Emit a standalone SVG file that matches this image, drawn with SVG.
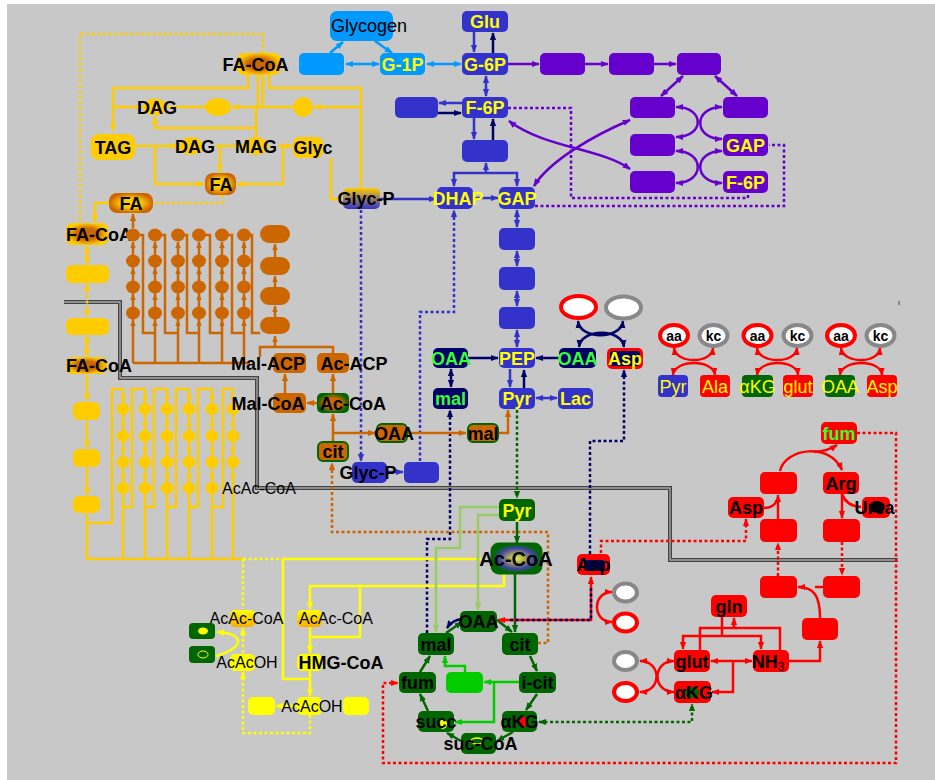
<svg xmlns="http://www.w3.org/2000/svg" width="935" height="780" viewBox="0 0 935 780">
<defs>
<style>
text{font-family:"Liberation Sans",Arial,sans-serif;font-weight:bold;font-size:18px;text-anchor:middle}
.n{font-weight:normal}
.s16{font-size:16px}
.s14{font-size:14px}
.ky{fill:#ffff00}.kk{fill:#000}.kg{fill:#33ff33}.kn{fill:#000033}
.ln{fill:none;stroke-width:2.5}
.dt{stroke-dasharray:3 2.5}
.blue{fill:#3333cc}.navy{fill:#000066}.pur{fill:#6600cc}.lb{fill:#0099ff}.gold{fill:#ffcc00}.org{fill:#cc6600}.yel{fill:#ffff00}.dg{fill:#006600}.red{fill:#ff0000}.bg{fill:#00cc00}
.ovr{fill:#fff;stroke:#ff0000;stroke-width:4}
.ovg{fill:#fff;stroke:#888;stroke-width:4}
</style>
<marker id="aB" viewBox="0 0 10 10" refX="9" refY="5" markerWidth="8" markerHeight="8" markerUnits="userSpaceOnUse" orient="auto-start-reverse"><path d="M0,1L10,5L0,9z" fill="#3333cc"/></marker>
<marker id="aN" viewBox="0 0 10 10" refX="9" refY="5" markerWidth="8" markerHeight="8" markerUnits="userSpaceOnUse" orient="auto-start-reverse"><path d="M0,1L10,5L0,9z" fill="#000066"/></marker>
<marker id="aP" viewBox="0 0 10 10" refX="9" refY="5" markerWidth="8" markerHeight="8" markerUnits="userSpaceOnUse" orient="auto-start-reverse"><path d="M0,1L10,5L0,9z" fill="#6600cc"/></marker>
<marker id="aL" viewBox="0 0 10 10" refX="9" refY="5" markerWidth="8" markerHeight="8" markerUnits="userSpaceOnUse" orient="auto-start-reverse"><path d="M0,1L10,5L0,9z" fill="#0099ff"/></marker>
<marker id="aY" viewBox="0 0 10 10" refX="9" refY="5" markerWidth="8" markerHeight="8" markerUnits="userSpaceOnUse" orient="auto-start-reverse"><path d="M0,1L10,5L0,9z" fill="#ffcc00"/></marker>
<marker id="yS" viewBox="0 0 10 10" refX="9" refY="5" markerWidth="7" markerHeight="7" markerUnits="userSpaceOnUse" orient="auto"><path d="M0,1L10,5L0,9z" fill="#ffcc00"/></marker>
<marker id="aO" viewBox="0 0 10 10" refX="9" refY="5" markerWidth="8" markerHeight="8" markerUnits="userSpaceOnUse" orient="auto-start-reverse"><path d="M0,1L10,5L0,9z" fill="#cc6600"/></marker>
<marker id="oS" viewBox="0 0 10 10" refX="9" refY="5" markerWidth="7" markerHeight="7" markerUnits="userSpaceOnUse" orient="auto"><path d="M0,1L10,5L0,9z" fill="#cc6600"/></marker>
<marker id="aYY" viewBox="0 0 10 10" refX="9" refY="5" markerWidth="8" markerHeight="8" markerUnits="userSpaceOnUse" orient="auto-start-reverse"><path d="M0,1L10,5L0,9z" fill="#ffff00"/></marker>
<marker id="aG" viewBox="0 0 10 10" refX="9" refY="5" markerWidth="8" markerHeight="8" markerUnits="userSpaceOnUse" orient="auto-start-reverse"><path d="M0,1L10,5L0,9z" fill="#006600"/></marker>
<marker id="aLG" viewBox="0 0 10 10" refX="9" refY="5" markerWidth="8" markerHeight="8" markerUnits="userSpaceOnUse" orient="auto-start-reverse"><path d="M0,1L10,5L0,9z" fill="#99cc66"/></marker>
<marker id="aBG" viewBox="0 0 10 10" refX="9" refY="5" markerWidth="8" markerHeight="8" markerUnits="userSpaceOnUse" orient="auto-start-reverse"><path d="M0,1L10,5L0,9z" fill="#00cc00"/></marker>
<marker id="aR" viewBox="0 0 10 10" refX="9" refY="5" markerWidth="8" markerHeight="8" markerUnits="userSpaceOnUse" orient="auto-start-reverse"><path d="M0,1L10,5L0,9z" fill="#ff0000"/></marker>
<radialGradient id="gFaCoA"><stop offset="0" stop-color="#cc6600"/><stop offset="0.5" stop-color="#cc6600"/><stop offset="1" stop-color="#ffcc00"/></radialGradient>
<radialGradient id="gFA"><stop offset="0" stop-color="#ffcc00"/><stop offset="0.45" stop-color="#ffcc00"/><stop offset="1" stop-color="#cc6600"/></radialGradient>
<radialGradient id="gAcCoA"><stop offset="0" stop-color="#cc6600"/><stop offset="0.5" stop-color="#cc6600"/><stop offset="1" stop-color="#006600"/></radialGradient>
<radialGradient id="gTca"><stop offset="0" stop-color="#e8e840"/><stop offset="0.3" stop-color="#b0b050"/><stop offset="0.7" stop-color="#4444aa"/><stop offset="1" stop-color="#006600"/></radialGradient>
<linearGradient id="gGlycP" x1="0" y1="0" x2="0" y2="1"><stop offset="0" stop-color="#ffcc00"/><stop offset="1" stop-color="#3333cc"/></linearGradient>
<linearGradient id="gAcAc" x1="0" y1="0" x2="0" y2="1"><stop offset="0" stop-color="#ffff00"/><stop offset="1" stop-color="#ffaa00"/></linearGradient>
</defs>

<!-- canvas -->
<rect width="935" height="780" fill="#fff"/>
<rect x="7" y="4" width="928" height="776" fill="#c8c8c8"/>
<rect x="898" y="301" width="2" height="4" fill="#888"/>

<!-- membrane -->
<g id="membrane">
<path d="M64 302H120V378H257V488H670V560H898" fill="none" stroke="#444" stroke-width="4"/>
<path d="M64 302H120V378H257V488H670V560H898" fill="none" stroke="#a8a8a8" stroke-width="1.3"/>
</g>

<g id="connectors">
<!-- glycogen -->
<path class="ln" stroke="#0099ff" stroke-width="2" d="M330 53L343 42" marker-end="url(#aL)"/>
<path class="ln" stroke="#0099ff" stroke-width="2" d="M375 41L392 53" marker-end="url(#aL)"/>
<path class="ln" stroke="#0099ff" stroke-width="2" d="M346 64H379" marker-start="url(#aL)" marker-end="url(#aL)"/>
<path class="ln" stroke="#0099ff" stroke-width="2" d="M427 64H461" marker-start="url(#aL)" marker-end="url(#aL)"/>
<!-- glycolysis -->
<path class="ln" stroke="#3333cc" d="M474 32V52" marker-end="url(#aB)"/>
<path class="ln" stroke="#3333cc" d="M486 76V96" marker-start="url(#aB)" marker-end="url(#aB)"/>
<path class="ln" stroke="#3333cc" d="M462 103H439" marker-end="url(#aB)"/>
<path class="ln" stroke="#3333cc" d="M474 118V139" marker-end="url(#aB)"/>
<path class="ln" stroke="#3333cc" d="M454 186V173H517V186" marker-start="url(#aB)" marker-end="url(#aB)"/>
<path class="ln" stroke="#3333cc" d="M486 173V163" marker-end="url(#aB)"/>
<path class="ln" stroke="#3333cc" d="M380 199H436" marker-end="url(#aB)"/>
<path class="ln" stroke="#3333cc" d="M473 198H498" marker-end="url(#aB)"/>
<path class="ln" stroke="#3333cc" d="M517 210V227" marker-start="url(#aB)" marker-end="url(#aB)"/>
<path class="ln" stroke="#3333cc" d="M517 251V266" marker-start="url(#aB)" marker-end="url(#aB)"/>
<path class="ln" stroke="#3333cc" d="M517 291V306" marker-start="url(#aB)" marker-end="url(#aB)"/>
<path class="ln" stroke="#3333cc" d="M517 330V347" marker-start="url(#aB)" marker-end="url(#aB)"/>
<path class="ln" stroke="#3333cc" d="M510 369V387" marker-end="url(#aB)"/>
<path class="ln" stroke="#3333cc" d="M536 398H557" marker-start="url(#aB)" marker-end="url(#aB)"/>
<path class="ln" stroke="#3333cc" d="M387 472H403" marker-end="url(#aB)"/>
<path class="ln dt" stroke="#3333cc" d="M361 210V461" marker-end="url(#aB)"/>
<path class="ln dt" stroke="#3333cc" d="M420 461V312H454V210" marker-end="url(#aB)"/>
<!-- navy -->
<path class="ln" stroke="#000066" d="M493 53V33" marker-end="url(#aN)"/>
<path class="ln" stroke="#000066" d="M438 113H461" marker-end="url(#aN)"/>
<path class="ln" stroke="#000066" d="M493 140V119" marker-end="url(#aN)"/>
<path class="ln" stroke="#000066" d="M524 388V370" marker-end="url(#aN)"/>
<path class="ln" stroke="#000066" d="M468 358H498" marker-end="url(#aN)"/>
<path class="ln" stroke="#000066" d="M559 358H536" marker-end="url(#aN)"/>
<path class="ln" stroke="#000066" d="M451 369V387" marker-start="url(#aN)" marker-end="url(#aN)"/>
<path class="ln" stroke="#000066" d="M578 321C580 340 621 340 623 321" marker-start="url(#aN)" marker-end="url(#aN)"/>
<path class="ln" stroke="#000066" d="M579 347C581 328 622 328 624 347" marker-start="url(#aN)" marker-end="url(#aN)"/>
<path class="ln" stroke="#000066" d="M462 619Q452 620 447 628" marker-end="url(#aN)"/>
<path class="ln dt" stroke="#000066" d="M427 633V539H450V410" marker-end="url(#aN)"/>
<path class="ln dt" stroke="#000066" d="M590 554V441H624V370" marker-end="url(#aN)"/>
<!-- purple -->
<path class="ln" stroke="#6600cc" d="M508 64H539" marker-end="url(#aP)"/>
<path class="ln" stroke="#6600cc" d="M585 64H608" marker-end="url(#aP)"/>
<path class="ln" stroke="#6600cc" d="M654 64H676" marker-end="url(#aP)"/>
<path class="ln" stroke="#6600cc" d="M683 76L661 96" marker-start="url(#aP)" marker-end="url(#aP)"/>
<path class="ln" stroke="#6600cc" d="M715 76L737 96" marker-start="url(#aP)" marker-end="url(#aP)"/>
<path class="ln" stroke="#6600cc" d="M676 107C705 107 705 137 676 137" marker-start="url(#aP)" marker-end="url(#aP)"/>
<path class="ln" stroke="#6600cc" d="M722 107C693 107 693 139 722 139" marker-start="url(#aP)" marker-end="url(#aP)"/>
<path class="ln" stroke="#6600cc" d="M676 151C705 151 705 183 676 183" marker-start="url(#aP)" marker-end="url(#aP)"/>
<path class="ln" stroke="#6600cc" d="M722 151C693 151 693 183 722 183" marker-start="url(#aP)" marker-end="url(#aP)"/>
<path class="ln" stroke="#6600cc" d="M509 121C545 148 600 148 630 169" marker-start="url(#aP)" marker-end="url(#aP)"/>
<path class="ln" stroke="#6600cc" d="M534 186C550 160 595 135 630 120" marker-start="url(#aP)" marker-end="url(#aP)"/>
<path class="ln dt" stroke="#6600cc" d="M508 108H571V198H748V193"/>
<path class="ln dt" stroke="#6600cc" d="M535 206H784V145H769"/>
<!-- lipids -->
<path class="ln dt" stroke="#ffcc00" d="M263 53V34H80V222"/>
<path class="ln" stroke="#ffcc00" d="M248 75V88H113V131" marker-end="url(#aY)"/>
<path class="ln" stroke="#ffcc00" d="M113 107H144M167 107H205M258 75V107M263 75V107"/>
<path class="ln" stroke="#ffcc00" d="M293 107H232" marker-end="url(#aY)"/>
<path class="ln" stroke="#ffcc00" d="M269 75V88H361V188"/>
<path class="ln" stroke="#ffcc00" d="M361 107H314" marker-end="url(#aY)"/>
<path class="ln" stroke="#ffcc00" d="M256 107V138"/>
<path class="ln" stroke="#ffcc00" d="M256 128H155V117" marker-end="url(#aY)"/>
<path class="ln" stroke="#ffcc00" d="M135 146H178" marker-end="url(#aY)"/>
<path class="ln" stroke="#ffcc00" d="M155 146V184H204" marker-end="url(#aY)"/>
<path class="ln" stroke="#ffcc00" d="M215 146H243"/>
<path class="ln" stroke="#ffcc00" d="M220 146V172" marker-end="url(#aY)"/>
<path class="ln" stroke="#ffcc00" d="M278 146H292" marker-end="url(#aY)"/>
<path class="ln" stroke="#ffcc00" d="M283 146V184H237" marker-end="url(#aY)"/>
<path class="ln" stroke="#ffcc00" d="M331 158V199H342"/>
<path class="ln dt" stroke="#ffcc00" stroke-width="2" d="M222 195V203H154"/>
<path class="ln" stroke="#ffcc00" d="M109 203H95V222" marker-end="url(#aY)"/>
<path class="ln" stroke="#ffcc00" d="M87 246V264" marker-start="url(#aY)" marker-end="url(#aY)"/>
<path class="ln dt" stroke="#ffcc00" d="M87 284V317" marker-start="url(#aY)" marker-end="url(#aY)"/>
<path class="ln" stroke="#ffcc00" d="M87 336V356" marker-start="url(#aY)" marker-end="url(#aY)"/>
<path class="ln" stroke="#ffcc00" d="M87 375V401" marker-end="url(#aY)"/>
<path class="ln" stroke="#ffcc00" d="M87 421V448" marker-end="url(#aY)"/>
<path class="ln" stroke="#ffcc00" d="M87 468V495" marker-end="url(#aY)"/>
<!-- beta-oxidation spiral -->
<path class="ln" stroke="#ffcc00" d="M87 514V559H243M87 523H112V389H123M123 507H132V389H145M145 507H154V389H167M167 507H176V389H189M189 507H198V389H212M212 507H223V389H233"/>
<path class="ln" stroke="#ffcc00" d="M123 389L123 402L123 429L123 455L123 481L123 559" marker-mid="url(#yS)"/>
<path class="ln" stroke="#ffcc00" d="M145 389L145 402L145 429L145 455L145 481L145 559" marker-mid="url(#yS)"/>
<path class="ln" stroke="#ffcc00" d="M167 389L167 402L167 429L167 455L167 481L167 559" marker-mid="url(#yS)"/>
<path class="ln" stroke="#ffcc00" d="M189 389L189 402L189 429L189 455L189 481L189 559" marker-mid="url(#yS)"/>
<path class="ln" stroke="#ffcc00" d="M212 389L212 402L212 429L212 455L212 481L212 559" marker-mid="url(#yS)"/>
<path class="ln" stroke="#ffcc00" d="M233 389L233 402L233 429L233 455L233 481L233 559" marker-mid="url(#yS)"/>
<!-- fatty acid synthesis spiral -->
<path class="ln" stroke="#cc6600" d="M133 363H250M133 235H143V333H155M155 235H165V333H178M178 235H187V333H199M199 235H210V333H222M222 235H232V333H244M244 235H252V333H260"/>
<path class="ln" stroke="#cc6600" d="M133 363L133 320L133 294L133 268L133 242" marker-mid="url(#oS)" marker-end="url(#oS)"/>
<path class="ln" stroke="#cc6600" d="M155 363L155 320L155 294L155 268L155 242" marker-mid="url(#oS)" marker-end="url(#oS)"/>
<path class="ln" stroke="#cc6600" d="M178 363L178 320L178 294L178 268L178 242" marker-mid="url(#oS)" marker-end="url(#oS)"/>
<path class="ln" stroke="#cc6600" d="M199 363L199 320L199 294L199 268L199 242" marker-mid="url(#oS)" marker-end="url(#oS)"/>
<path class="ln" stroke="#cc6600" d="M222 363L222 320L222 294L222 268L222 242" marker-mid="url(#oS)" marker-end="url(#oS)"/>
<path class="ln" stroke="#cc6600" d="M244 363L244 320L244 294L244 268L244 242" marker-mid="url(#oS)" marker-end="url(#oS)"/>
<path class="ln" stroke="#cc6600" d="M133 228V214" marker-end="url(#aO)"/>
<path class="ln" stroke="#cc6600" d="M275 347L275 336" marker-end="url(#oS)"/>
<path class="ln" stroke="#cc6600" d="M275 317L275 306" marker-end="url(#oS)"/>
<path class="ln" stroke="#cc6600" d="M275 287L275 276" marker-end="url(#oS)"/>
<path class="ln" stroke="#cc6600" d="M275 257L275 244" marker-end="url(#oS)"/>
<path class="ln" stroke="#cc6600" d="M260 357V347H333V353"/>
<path class="ln" stroke="#cc6600" d="M285 393V374" marker-end="url(#aO)"/>
<path class="ln" stroke="#cc6600" d="M317 403H307" marker-end="url(#aO)"/>
<path class="ln" stroke="#cc6600" d="M333 393V374" marker-end="url(#aO)"/>
<path class="ln" stroke="#cc6600" d="M333 441V414" marker-end="url(#aO)"/>
<path class="ln" stroke="#cc6600" d="M333 433H375" marker-end="url(#aO)"/>
<path class="ln" stroke="#cc6600" d="M408 433H466" marker-end="url(#aO)"/>
<path class="ln" stroke="#cc6600" d="M499 433H508V410" marker-end="url(#aO)"/>
<path class="ln dt" stroke="#cc6600" d="M538 643H548V532H332V463" marker-end="url(#aO)"/>
<!-- ketone bodies -->
<path class="ln dt" stroke="#ffff00" d="M243 559H283M243 559V609"/>
<path class="ln dt" stroke="#ffff00" d="M243 653V628" marker-end="url(#aYY)"/>
<path class="ln" stroke="#ffff00" d="M283 559H481M283 559V679H310"/>
<path class="ln" stroke="#ffff00" d="M216 656C240 650 250 634 217 632" marker-end="url(#aYY)"/>
<path class="ln dt" stroke="#ffff00" d="M310 715V733H243V672" marker-end="url(#aYY)"/>
<path class="ln" stroke="#ffff00" d="M504 573V586H310V609" marker-end="url(#aYY)"/>
<path class="ln" stroke="#ffff00" d="M360 586V637H310"/>
<path class="ln" stroke="#ffff00" d="M310 627V653" marker-end="url(#aYY)"/>
<path class="ln" stroke="#ffff00" d="M310 671V696" marker-end="url(#aYY)"/>
<path class="ln" stroke="#ffff00" d="M297 706H276" marker-end="url(#aYY)"/>
<!-- TCA cycle -->
<path class="ln dt" stroke="#006600" d="M517 410V498" marker-end="url(#aG)"/>
<path class="ln" stroke="#006600" d="M517 522V543" marker-end="url(#aG)"/>
<path class="ln" stroke="#006600" d="M515 573V632" marker-end="url(#aG)"/>
<path class="ln" stroke="#006600" d="M497 620L512 632" marker-end="url(#aG)"/>
<path class="ln" stroke="#006600" d="M530 656L537 671" marker-end="url(#aG)"/>
<path class="ln" stroke="#006600" d="M537 694L526 710" marker-end="url(#aG)"/>
<path class="ln" stroke="#006600" d="M513 732L497 741" marker-end="url(#aG)"/>
<path class="ln" stroke="#006600" d="M461 741L447 733" marker-end="url(#aG)"/>
<path class="ln" stroke="#006600" d="M428 711L420 694" marker-end="url(#aG)"/>
<path class="ln" stroke="#006600" d="M420 672L430 656" marker-end="url(#aG)"/>
<path class="ln" stroke="#006600" d="M446 633L462 622" marker-end="url(#aG)"/>
<path class="ln dt" stroke="#006600" d="M539 722H692V704" marker-start="url(#aG)" marker-end="url(#aG)"/>
<path class="ln" stroke="#99cc66" d="M499 507H460V548H436V632" marker-end="url(#aLG)"/>
<path class="ln" stroke="#99cc66" d="M499 515H478V610" marker-end="url(#aLG)"/>
<path class="ln" stroke="#00cc00" d="M519 682H484" marker-end="url(#aBG)"/>
<path class="ln" stroke="#00cc00" d="M494 682V722H455" marker-end="url(#aBG)"/>
<path class="ln" stroke="#00cc00" d="M465 672V666H445V656" marker-end="url(#aBG)"/>
<!-- aspartate shuttle -->
<path class="ln" stroke="#ff0000" stroke-width="2" d="M591 577V620H498" marker-start="url(#aR)" marker-end="url(#aR)"/>
<path class="ln dt" stroke="#000066" stroke-width="2" d="M591 588V620H508"/>
<path class="ln" stroke="#ff0000" d="M612 592C592 592 592 622 612 622" marker-start="url(#aR)" marker-end="url(#aR)"/>
<path class="ln dt" stroke="#ff0000" d="M601 553V541H746V519" marker-end="url(#aR)"/>
<!-- urea cycle and nitrogen -->
<path class="ln dt" stroke="#ff0000" d="M857 433H896V763H383V683H398" marker-end="url(#aR)"/>
<path class="ln" stroke="#ff0000" d="M780 471C785 448 830 442 842 470" marker-end="url(#aR)"/>
<path class="ln" stroke="#ff0000" d="M814 452Q828 451 837 445" marker-end="url(#aR)"/>
<path class="ln" stroke="#ff0000" d="M778 519V495" marker-end="url(#aR)"/>
<path class="ln" stroke="#ff0000" d="M764 508Q774 508 777 500"/>
<path class="ln" stroke="#ff0000" d="M842 494Q846 506 861 507"/>
<path class="ln" stroke="#ff0000" d="M842 494V518" marker-end="url(#aR)"/>
<path class="ln dt" stroke="#ff0000" d="M778 576V543" marker-end="url(#aR)"/>
<path class="ln dt" stroke="#ff0000" d="M842 542V575" marker-end="url(#aR)"/>
<path class="ln" stroke="#ff0000" d="M823 587H815"/>
<path class="ln" stroke="#ff0000" d="M820 618C820 596 814 587 798 587" marker-end="url(#aR)"/>
<path class="ln" stroke="#ff0000" d="M789 661H820V641" marker-end="url(#aR)"/>
<path class="ln" stroke="#ff0000" d="M722 617V636M700 650V628H780V650"/>
<path class="ln" stroke="#ff0000" d="M734 628V618" marker-end="url(#aR)"/>
<path class="ln" stroke="#ff0000" d="M683 649V636H761V649" marker-start="url(#aR)" marker-end="url(#aR)"/>
<path class="ln" stroke="#ff0000" d="M711 661H752" marker-start="url(#aR)" marker-end="url(#aR)"/>
<path class="ln" stroke="#ff0000" d="M733 661V692H712" marker-end="url(#aR)"/>
<path class="ln" stroke="#ff0000" d="M640 661C662 661 662 692 640 692" marker-start="url(#aR)" marker-end="url(#aR)"/>
<path class="ln" stroke="#ff0000" d="M674 661C652 661 652 692 674 692" marker-start="url(#aR)" marker-end="url(#aR)"/>
<!-- transamination key -->
<path class="ln" stroke="#ff0000" stroke-width="2" d="M674 348C676 364 712 364 713 348" marker-start="url(#aR)" marker-end="url(#aR)"/>
<path class="ln" stroke="#ff0000" stroke-width="2" d="M673 375C675 359 713 359 715 375" marker-start="url(#aR)" marker-end="url(#aR)"/>
<path class="ln" stroke="#ff0000" stroke-width="2" d="M757 348C759 364 796 364 797 348" marker-start="url(#aR)" marker-end="url(#aR)"/>
<path class="ln" stroke="#ff0000" stroke-width="2" d="M757 375C759 359 797 359 798 375" marker-start="url(#aR)" marker-end="url(#aR)"/>
<path class="ln" stroke="#ff0000" stroke-width="2" d="M841 348C843 364 879 364 880 348" marker-start="url(#aR)" marker-end="url(#aR)"/>
<path class="ln" stroke="#ff0000" stroke-width="2" d="M840 375C842 359 881 359 882 375" marker-start="url(#aR)" marker-end="url(#aR)"/>
</g>

<!-- glycogen / glycolysis nodes -->
<g id="glycogen"><rect x="330" y="11" width="63" height="30" rx="7" class="lb"/><text x="369" y="32" class="n kk">Glycogen</text></g>
<g id="glc-blank"><rect x="299" y="53" width="45" height="22" rx="5" class="lb"/></g>
<g id="g1p"><rect x="380" y="53" width="45" height="22" rx="5" class="lb"/><text x="402.5" y="70.5" class="ky">G-1P</text></g>
<g id="g6p"><rect x="462" y="53" width="46" height="22" rx="5" class="blue"/><text x="485" y="70.5" class="ky">G-6P</text></g>
<g id="glu"><rect x="462" y="11" width="46" height="21" rx="5" class="blue"/><text x="485" y="28" class="ky">Glu</text></g>
<g id="f6p"><rect x="462" y="97" width="46" height="21" rx="5" class="blue"/><text x="485" y="114" class="ky">F-6P</text></g>
<g id="f26bp"><rect x="395" y="97" width="43" height="21" rx="5" class="blue"/></g>
<g id="f16bp"><rect x="462" y="140" width="46" height="22" rx="5" class="blue"/></g>
<g id="dhap"><rect x="437" y="187" width="36" height="22" rx="5" class="blue"/><text x="458" y="204.5" class="ky">DHAP</text></g>
<g id="gap"><rect x="499" y="187" width="36" height="22" rx="5" class="blue"/><text x="517" y="204.5" class="ky">GAP</text></g>
<g id="glycp-cyt"><rect x="343" y="188" width="37" height="21" rx="5" fill="url(#gGlycP)"/><text x="366" y="205" class="kk">Glyc-P</text></g>
<g id="bpg"><rect x="499" y="228" width="36" height="22" rx="5" class="blue"/></g>
<g id="pg3"><rect x="499" y="267" width="36" height="23" rx="5" class="blue"/></g>
<g id="pg2"><rect x="499" y="307" width="36" height="22" rx="5" class="blue"/></g>
<g id="pep"><rect x="499" y="348" width="36" height="20" rx="5" class="blue"/><text x="517" y="364.5" class="ky">PEP</text></g>
<g id="pyr-cyt"><rect x="499" y="388" width="36" height="21" rx="5" class="blue"/><text x="517" y="405" class="ky">Pyr</text></g>
<g id="lac"><rect x="558" y="388" width="35" height="21" rx="5" class="blue"/><text x="575.5" y="405" class="ky">Lac</text></g>
<g id="oaa-cyt1"><rect x="433" y="348" width="35" height="20" rx="5" class="navy"/><text x="451" y="364.5" class="kg">OAA</text></g>
<g id="mal-cyt"><rect x="433" y="388" width="35" height="21" rx="5" class="navy"/><text x="450.5" y="405" class="kg">mal</text></g>
<g id="oaa-cyt2"><rect x="559" y="348" width="37" height="20" rx="5" class="navy"/><text x="577.5" y="364.5" class="kg">OAA</text></g>
<g id="asp-cyt"><rect x="607" y="348" width="36" height="21" rx="5" class="red"/><rect x="610" y="351" width="30" height="15" rx="3" class="navy"/><text x="625" y="365" class="ky">Asp</text></g>
<g id="aa-cyt"><ellipse cx="578.5" cy="307" rx="17.5" ry="11" class="ovr"/></g>
<g id="kc-cyt"><ellipse cx="623.5" cy="307.5" rx="17.5" ry="11" class="ovg"/></g>

<!-- pentose phosphate -->
<g id="ppp1"><rect x="540" y="53" width="45" height="22" rx="5" class="pur"/></g>
<g id="ppp2"><rect x="609" y="53" width="45" height="22" rx="5" class="pur"/></g>
<g id="ppp3"><rect x="677" y="53" width="44" height="22" rx="5" class="pur"/></g>
<g id="ppp4"><rect x="630" y="97" width="45" height="21" rx="5" class="pur"/></g>
<g id="ppp5"><rect x="723" y="97" width="45" height="21" rx="5" class="pur"/></g>
<g id="ppp6"><rect x="630" y="134" width="45" height="22" rx="5" class="pur"/></g>
<g id="ppp-gap"><rect x="723" y="134" width="45" height="22" rx="5" class="pur"/><text x="745.5" y="151.5" class="ky">GAP</text></g>
<g id="ppp7"><rect x="630" y="171" width="45" height="22" rx="5" class="pur"/></g>
<g id="ppp-f6p"><rect x="723" y="171" width="45" height="22" rx="5" class="pur"/><text x="745.5" y="188.5" class="ky">F-6P</text></g>

<!-- lipid nodes -->
<g id="facoa-top"><rect x="237" y="53" width="44" height="22" rx="7" fill="url(#gFaCoA)"/><text x="255.5" y="70.5" class="kk">FA-CoA</text></g>
<g id="dag1"><ellipse cx="155" cy="107" rx="11.5" ry="8.5" class="gold"/><text x="157" y="113.5" class="kk">DAG</text></g>
<g id="lpa"><ellipse cx="218" cy="107" rx="13" ry="9" class="gold"/></g>
<g id="glyc3p"><circle cx="303" cy="107" r="10" class="gold"/></g>
<g id="tag"><rect x="91" y="134" width="44" height="26" rx="8" class="gold"/><text x="113" y="153.5" class="kk">TAG</text></g>
<g id="dag2"><ellipse cx="191" cy="146" rx="12" ry="9" class="gold"/><text x="195" y="152.5" class="kk">DAG</text></g>
<g id="mag"><ellipse cx="256" cy="146" rx="13" ry="9" class="gold"/><text x="256" y="152.5" class="kk">MAG</text></g>
<g id="glyc"><rect x="293" y="137" width="30" height="21" rx="6" class="gold"/><text x="313" y="154" class="kk">Glyc</text></g>
<g id="fa-mid"><rect x="205" y="173" width="31" height="22" rx="8" fill="url(#gFA)"/><text x="221" y="190.5" class="kk">FA</text></g>
<g id="fa-left"><rect x="109" y="193" width="44" height="20" rx="8" fill="url(#gFA)"/><text x="131" y="209.5" class="kk">FA</text></g>
<g id="facoa-cyt"><rect x="66" y="223" width="42" height="22" rx="6" fill="url(#gFaCoA)"/><text x="99" y="240.5" class="kk">FA-CoA</text></g>
<g id="carn1"><rect x="66" y="265" width="43" height="18" rx="6" class="gold"/></g>
<g id="carn2"><rect x="66" y="318" width="43" height="17" rx="6" class="gold"/></g>
<g id="facoa-mit"><rect x="66" y="357" width="41" height="17" rx="6" fill="url(#gFaCoA)"/><text x="99" y="371.5" class="kk">FA-CoA</text></g>
<g id="box1"><rect x="73" y="402" width="27" height="18" rx="6" class="gold"/></g>
<g id="box2"><rect x="73" y="449" width="27" height="18" rx="6" class="gold"/></g>
<g id="box3"><rect x="73" y="496" width="27" height="17" rx="6" class="gold"/></g>

<!-- beta-oxidation intermediates -->
<g id="beta-ox" class="gold">
<ellipse cx="123" cy="409" rx="6.5" ry="6"/><ellipse cx="123" cy="436" rx="6.5" ry="6"/><ellipse cx="123" cy="462" rx="6.5" ry="6"/><ellipse cx="123" cy="488" rx="6.5" ry="6"/>
<ellipse cx="145" cy="409" rx="6.5" ry="6"/><ellipse cx="145" cy="436" rx="6.5" ry="6"/><ellipse cx="145" cy="462" rx="6.5" ry="6"/><ellipse cx="145" cy="488" rx="6.5" ry="6"/>
<ellipse cx="167" cy="409" rx="6.5" ry="6"/><ellipse cx="167" cy="436" rx="6.5" ry="6"/><ellipse cx="167" cy="462" rx="6.5" ry="6"/><ellipse cx="167" cy="488" rx="6.5" ry="6"/>
<ellipse cx="189" cy="409" rx="6.5" ry="6"/><ellipse cx="189" cy="436" rx="6.5" ry="6"/><ellipse cx="189" cy="462" rx="6.5" ry="6"/><ellipse cx="189" cy="488" rx="6.5" ry="6"/>
<ellipse cx="212" cy="409" rx="6.5" ry="6"/><ellipse cx="212" cy="436" rx="6.5" ry="6"/><ellipse cx="212" cy="462" rx="6.5" ry="6"/><ellipse cx="212" cy="488" rx="6.5" ry="6"/>
<ellipse cx="233" cy="409" rx="6.5" ry="6"/><ellipse cx="233" cy="436" rx="6.5" ry="6"/><ellipse cx="233" cy="462" rx="6.5" ry="6"/>
</g>
<g id="acac-coa-label"><text x="259" y="494" class="n s16 kk">AcAc-CoA</text></g>

<!-- fatty acid synthesis intermediates -->
<g id="fas" class="org">
<ellipse cx="133" cy="235" rx="7" ry="6.5"/><ellipse cx="133" cy="261" rx="7" ry="6.5"/><ellipse cx="133" cy="287" rx="7" ry="6.5"/><ellipse cx="133" cy="313" rx="7" ry="6.5"/>
<ellipse cx="155" cy="235" rx="7" ry="6.5"/><ellipse cx="155" cy="261" rx="7" ry="6.5"/><ellipse cx="155" cy="287" rx="7" ry="6.5"/><ellipse cx="155" cy="313" rx="7" ry="6.5"/>
<ellipse cx="178" cy="235" rx="7" ry="6.5"/><ellipse cx="178" cy="261" rx="7" ry="6.5"/><ellipse cx="178" cy="287" rx="7" ry="6.5"/><ellipse cx="178" cy="313" rx="7" ry="6.5"/>
<ellipse cx="199" cy="235" rx="7" ry="6.5"/><ellipse cx="199" cy="261" rx="7" ry="6.5"/><ellipse cx="199" cy="287" rx="7" ry="6.5"/><ellipse cx="199" cy="313" rx="7" ry="6.5"/>
<ellipse cx="222" cy="235" rx="7" ry="6.5"/><ellipse cx="222" cy="261" rx="7" ry="6.5"/><ellipse cx="222" cy="287" rx="7" ry="6.5"/><ellipse cx="222" cy="313" rx="7" ry="6.5"/>
<ellipse cx="244" cy="235" rx="7" ry="6.5"/><ellipse cx="244" cy="261" rx="7" ry="6.5"/><ellipse cx="244" cy="287" rx="7" ry="6.5"/><ellipse cx="244" cy="313" rx="7" ry="6.5"/>
<rect x="260" y="225" width="30" height="18" rx="9"/><rect x="260" y="257" width="30" height="18" rx="9"/><rect x="260" y="287" width="30" height="18" rx="9"/><rect x="260" y="317" width="30" height="17" rx="9"/>
</g>
<g id="mal-acp"><rect x="273" y="353" width="33" height="20" rx="5" class="org"/><text x="268" y="369.5" class="kk">Mal-ACP</text></g>
<g id="ac-acp"><rect x="317" y="353" width="32" height="20" rx="5" class="org"/><text x="354" y="369.5" class="kk">Ac-ACP</text></g>
<g id="mal-coa"><rect x="273" y="393" width="33" height="20" rx="5" class="org"/><text x="268" y="409.5" class="kk">Mal-CoA</text></g>
<g id="ac-coa-cyt"><rect x="317" y="393" width="32" height="20" rx="5" fill="url(#gAcCoA)"/><text x="353" y="409.5" class="kk">Ac-CoA</text></g>
<g id="cit-cyt"><rect x="318" y="442" width="30" height="19" rx="5" class="org" stroke="#006600" stroke-width="2"/><text x="333" y="458" class="kk">cit</text></g>
<g id="oaa-cyt3"><rect x="377" y="424" width="30" height="18" rx="5" class="org" stroke="#006600" stroke-width="2"/><text x="394" y="439.5" class="kk">OAA</text></g>
<g id="mal-cyt2"><rect x="468" y="424" width="30" height="18" rx="5" class="org" stroke="#006600" stroke-width="2"/><text x="483" y="439.5" class="kk">mal</text></g>
<g id="glycp-mit"><rect x="352" y="462" width="35" height="21" rx="5" class="blue"/><text x="368" y="479" class="kk">Glyc-P</text></g>
<g id="dhap-mit"><rect x="404" y="462" width="35" height="21" rx="5" class="blue"/></g>

<!-- ketone bodies -->
<g id="acac-coa1"><rect x="230" y="610" width="25" height="17" rx="5" fill="url(#gAcAc)"/><text x="246.5" y="624" class="n s16 kk">AcAc-CoA</text></g>
<g id="acacoh1"><rect x="230" y="654" width="25" height="17" rx="5" class="yel"/><text x="247" y="668" class="n s16 kk">AcAcOH</text></g>
<g id="nadh"><rect x="189" y="623" width="26" height="16" rx="4" class="dg"/><ellipse cx="203" cy="631" rx="5" ry="3.5" class="yel"/></g>
<g id="nad"><rect x="189" y="646" width="26" height="17" rx="4" class="dg"/><ellipse cx="203" cy="654.5" rx="5" ry="3.5" fill="none" stroke="#ffff00" stroke-width="1"/></g>
<g id="acac-coa2"><rect x="297" y="610" width="25" height="17" rx="5" fill="url(#gAcAc)"/><text x="336" y="624" class="n s16 kk">AcAc-CoA</text></g>
<g id="hmg-coa"><rect x="297" y="654" width="25" height="17" rx="5" class="yel"/><text x="341" y="669" class="kk">HMG-CoA</text></g>
<g id="acacoh2"><rect x="297" y="697" width="25" height="18" rx="5" class="yel"/><text x="312" y="712" class="n s16 kk">AcAcOH</text></g>
<g id="acetone"><rect x="248" y="697" width="27" height="18" rx="5" class="yel"/></g>
<g id="bhb"><rect x="343" y="697" width="26" height="18" rx="5" class="yel"/></g>

<!-- TCA cycle -->
<g id="pyr-mit"><rect x="499" y="499" width="36" height="22" rx="5" class="dg"/><text x="517" y="516.5" class="ky">Pyr</text></g>
<g id="ac-coa-mit"><rect x="492" y="544" width="49" height="29" rx="7" fill="url(#gTca)" stroke="#006600" stroke-width="3"/><text x="516" y="566" class="kk" style="font-size:20px">Ac-CoA</text></g>
<g id="oaa-mit"><rect x="460" y="611" width="37" height="21" rx="5" class="dg"/><text x="478.5" y="628" class="kk">OAA</text></g>
<g id="cit-mit"><rect x="502" y="633" width="36" height="22" rx="5" class="dg"/><text x="520" y="650.5" class="kk">cit</text></g>
<g id="mal-mit"><rect x="418" y="633" width="36" height="22" rx="5" class="dg"/><text x="436" y="650.5" class="kk">mal</text></g>
<g id="fum-mit"><rect x="399" y="672" width="37" height="21" rx="5" class="dg"/><text x="417.5" y="689" class="kk">fum</text></g>
<g id="icit"><rect x="519" y="672" width="37" height="21" rx="5" class="dg"/><text x="537.5" y="689" class="kk">i-cit</text></g>
<g id="glyoxylate"><rect x="446" y="672" width="37" height="21" rx="5" class="bg"/></g>
<g id="succ"><rect x="418" y="711" width="36" height="21" rx="5" class="dg"/><ellipse cx="443" cy="724" rx="4" ry="5" class="yel"/><text x="436" y="728" class="kk">succ</text></g>
<g id="akg-mit"><rect x="502" y="711" width="35" height="21" rx="5" class="dg"/><ellipse cx="523" cy="722" rx="5" ry="5" class="red"/><text x="519.5" y="728" class="kk">αKG</text></g>
<g id="succoa"><rect x="461" y="733" width="35" height="21" rx="5" class="dg"/><ellipse cx="477" cy="741" rx="6" ry="3" fill="none" stroke="#ffff00" stroke-width="1.5"/><text x="480.5" y="750" class="kk">suc-CoA</text></g>
<g id="asp-mit"><rect x="577" y="554" width="33" height="21" rx="5" class="red"/><rect x="584" y="560" width="21" height="11" rx="3" class="navy"/><text x="593.5" y="571" class="kk">Asp</text></g>
<g id="kc-mit1"><ellipse cx="625.5" cy="592.5" rx="11.5" ry="9" class="ovg"/></g>
<g id="aa-mit1"><ellipse cx="625.5" cy="622.5" rx="11.5" ry="9" class="ovr"/></g>
<g id="kc-mit2"><ellipse cx="625.5" cy="661" rx="11.5" ry="9" class="ovg"/></g>
<g id="aa-mit2"><ellipse cx="625.5" cy="692" rx="11.5" ry="9" class="ovr"/></g>

<!-- urea cycle and nitrogen -->
<g id="fum-urea"><rect x="821" y="422" width="36" height="22" rx="5" class="red"/><text x="839" y="439.5" class="kg">fum</text></g>
<g id="argsucc"><rect x="760" y="472" width="37" height="22" rx="5" class="red"/></g>
<g id="arg"><rect x="823" y="472" width="36" height="22" rx="5" class="red"/><text x="841" y="489.5" class="kk">Arg</text></g>
<g id="asp-urea"><rect x="728" y="497" width="36" height="21" rx="5" class="red"/><text x="746" y="514" class="kk">Asp</text></g>
<g id="urea"><rect x="862" y="497" width="28" height="21" rx="5" class="red"/><text x="874.5" y="514" class="kk">Urea</text><ellipse cx="877" cy="507" rx="8" ry="6" class="kk"/></g>
<g id="cit-urea"><rect x="760" y="519" width="37" height="23" rx="5" class="red"/></g>
<g id="orn"><rect x="823" y="519" width="37" height="23" rx="5" class="red"/></g>
<g id="cit-urea2"><rect x="760" y="576" width="37" height="22" rx="5" class="red"/></g>
<g id="orn2"><rect x="823" y="576" width="37" height="22" rx="5" class="red"/></g>
<g id="carbp"><rect x="802" y="618" width="36" height="22" rx="5" class="red"/></g>
<g id="gln"><rect x="711" y="595" width="36" height="22" rx="5" class="red"/><text x="729" y="612.5" class="kk">gln</text></g>
<g id="glut"><rect x="674" y="650" width="36" height="22" rx="5" class="red"/><text x="692" y="667.5" class="kk">glut</text></g>
<g id="nh3"><rect x="753" y="650" width="36" height="22" rx="5" class="red"/><text x="768" y="667.5" class="kk">NH<tspan style="font-size:12px;font-weight:normal" dy="3">3</tspan></text></g>
<g id="akg-urea"><rect x="674" y="681" width="37" height="22" rx="5" class="red"/><ellipse cx="692" cy="692.5" rx="7" ry="5.5" class="dg"/><text x="694" y="698.5" class="kk">αKG</text></g>

<!-- transamination key -->
<g id="key-aa1"><ellipse cx="674" cy="335.5" rx="14" ry="10.5" class="ovr"/><text x="674" y="340.5" class="s14 kk">aa</text></g>
<g id="key-kc1"><ellipse cx="713.5" cy="335.5" rx="14" ry="10.5" class="ovg"/><text x="713.5" y="340.5" class="s14 kk">kc</text></g>
<g id="key-aa2"><ellipse cx="757.5" cy="335.5" rx="14" ry="10.5" class="ovr"/><text x="757.5" y="340.5" class="s14 kk">aa</text></g>
<g id="key-kc2"><ellipse cx="797.5" cy="335.5" rx="14" ry="10.5" class="ovg"/><text x="797.5" y="340.5" class="s14 kk">kc</text></g>
<g id="key-aa3"><ellipse cx="841" cy="335.5" rx="14" ry="10.5" class="ovr"/><text x="841" y="340.5" class="s14 kk">aa</text></g>
<g id="key-kc3"><ellipse cx="880.5" cy="335.5" rx="14" ry="10.5" class="ovg"/><text x="880.5" y="340.5" class="s14 kk">kc</text></g>
<g id="key-pyr"><rect x="658" y="375" width="30" height="22" rx="4" class="blue"/><text x="673" y="392.5" class="n ky">Pyr</text></g>
<g id="key-ala"><rect x="700" y="375" width="30" height="22" rx="4" class="red"/><text x="715" y="392.5" class="n ky">Ala</text></g>
<g id="key-akg"><rect x="742" y="375" width="31" height="22" rx="4" class="dg"/><text x="757.5" y="392.5" class="n ky">αKG</text></g>
<g id="key-glut"><rect x="783" y="375" width="30" height="22" rx="4" class="red"/><text x="798" y="392.5" class="n ky">glut</text></g>
<g id="key-oaa"><rect x="825" y="375" width="30" height="22" rx="4" class="dg"/><text x="840" y="392.5" class="n ky">OAA</text></g>
<g id="key-asp"><rect x="867" y="375" width="30" height="22" rx="4" class="red"/><text x="882" y="392.5" class="n ky">Asp</text></g>
</svg>
